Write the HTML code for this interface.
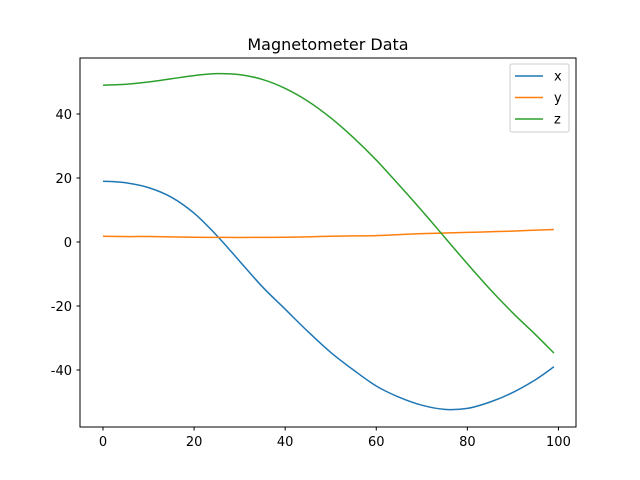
<!DOCTYPE html>
<html><head><meta charset="utf-8"><style>body{margin:0;background:#fff}svg{display:block;font-family:"DejaVu Sans","Liberation Sans",sans-serif}</style></head>
<body>
<svg id="chart" width="640" height="480">
<rect width="640" height="480" fill="#fff"/>
<text x="328" y="50" font-size="16" text-anchor="middle">Magnetometer Data</text>
<g id="plot"></g>
<rect x="80" y="58" width="496" height="369" fill="none" stroke="#000" stroke-width="1"/>
</svg>
<script>
const idx = [0,5,10,15,20,25,30,35,40,45,50,55,60,65,70,75,80,85,90,95,99];
const xVals = [19,18.5,17,14,9,2,-6,-14,-21,-28,-34.5,-40,-45,-48.5,-51,-52.3,-52,-50,-47,-43,-39];
const yVals = [1.8,1.7,1.7,1.6,1.5,1.45,1.4,1.45,1.5,1.6,1.8,1.9,2,2.3,2.6,2.8,3,3.2,3.4,3.7,3.9];
const zVals = [49,49.3,50,51,52,52.6,52.3,50.8,48,44,38.8,32.6,25.6,17.8,9.8,1.5,-6.8,-14.8,-22.2,-29,-34.7];
const xTicks = [0,20,40,60,80,100];
const yTicks = [-40,-20,0,20,40];
const seriesNames = ['x','y','z'];
const colors = ['#1f77b4','#ff7f0e','#2ca02c'];
const NS='http://www.w3.org/2000/svg';
const g=document.getElementById('plot');
const sx=v=>103+v*4.5545;
const sy=v=>242-v*3.2;
function mk(t,a){const e=document.createElementNS(NS,t);for(const k in a)e.setAttribute(k,a[k]);g.appendChild(e);return e;}
function smooth(pts){
 let d='M'+pts[0][0]+','+pts[0][1];
 for(let i=0;i<pts.length-1;i++){
  const p0=pts[i-1]||pts[i],p1=pts[i],p2=pts[i+1],p3=pts[i+2]||p2;
  const c1=[p1[0]+(p2[0]-p0[0])/6,p1[1]+(p2[1]-p0[1])/6];
  const c2=[p2[0]-(p3[0]-p1[0])/6,p2[1]-(p3[1]-p1[1])/6];
  d+='C'+c1+' '+c2+' '+p2;
 }
 return d;
}
xTicks.forEach(t=>{
 const l=mk('line',{x1:sx(t),x2:sx(t),y1:427,y2:430.5,stroke:'#000'});
 
 
 const tx=mk('text',{x:sx(t),y:446,'font-size':13,'text-anchor':'middle'});tx.textContent=t;
 
 
});
yTicks.forEach(t=>{
 const l=mk('line',{x1:76.5,x2:80,y1:sy(t),y2:sy(t),stroke:'#000'});
 
 
 const tx=mk('text',{x:72,y:sy(t)+5,'font-size':13,'text-anchor':'end'});tx.textContent=t;
 
 
});
[xVals,yVals,zVals].forEach((s,i)=>{
 const p=mk('path',{d:smooth(s.map((v,j)=>[sx(idx[j]),sy(v)])),fill:'none',stroke:colors[i],'stroke-width':1.5});
 
 
});
const lg=mk('rect',{x:510,y:64,width:59,height:68,fill:'#fff',stroke:'#ccc',rx:2});


seriesNames.forEach((n,i)=>{
 const y=76+i*21.5;
 const l=mk('line',{x1:515,x2:543,y1:y,y2:y,stroke:colors[i],'stroke-width':1.5});
 
 
 const t=mk('text',{x:554,y:y+4.5,'font-size':13});t.textContent=n;
 
 
});
</script>
</body></html>
